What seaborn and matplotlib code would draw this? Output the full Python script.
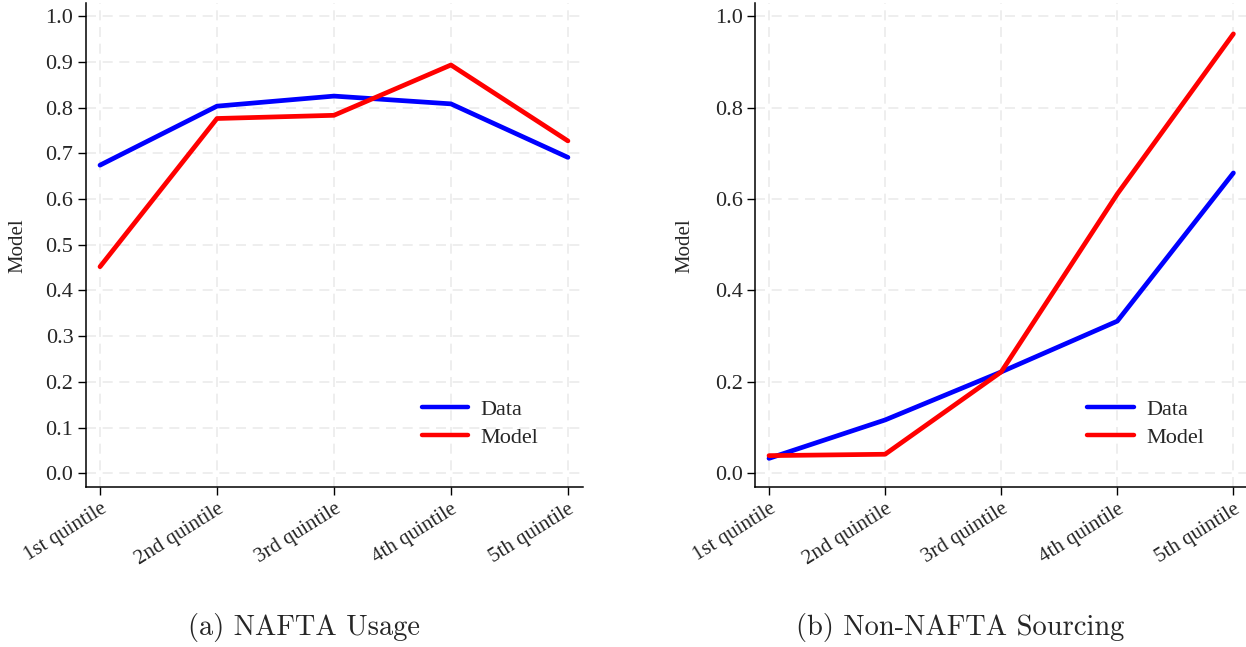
import matplotlib
matplotlib.use("Agg")
import matplotlib.pyplot as plt
import seaborn as sns
import pandas as pd
import numpy as np

categories = ["1st quintile", "2nd quintile", "3rd quintile", "4th quintile", "5th quintile"]
usage_data = [0.674, 0.803, 0.825, 0.808, 0.691]
usage_model = [0.452, 0.776, 0.783, 0.893, 0.727]
sourcing_data = [0.033, 0.117, 0.222, 0.333, 0.657]
sourcing_model = [0.039, 0.042, 0.222, 0.611, 0.961]
left_yticks = [0.0, 0.1, 0.2, 0.3, 0.4, 0.5, 0.6, 0.7, 0.8, 0.9, 1.0]
right_yticks = [0.0, 0.2, 0.4, 0.6, 0.8, 1.0]
captions = ["(a) NAFTA Usage", "(b) Non-NAFTA Sourcing"]

sns.set_style("ticks")
plt.rcParams["font.family"] = ["Liberation Serif", "DejaVu Serif"]

def long_df(d, m):
    return pd.DataFrame({
        "q": list(range(len(categories))) * 2,
        "value": list(d) + list(m),
        "series": ["Data"] * len(d) + ["Model"] * len(m),
    })

fig = plt.figure(figsize=(12.46, 6.47), dpi=100)
ax1 = fig.add_axes([0.069, 0.247, 0.399, 0.748])
ax2 = fig.add_axes([0.606, 0.247, 0.396, 0.748])

palette = {"Data": "#0000ff", "Model": "#ff0000"}
for ax, (d, m), yt, xl in [(ax1, (usage_data, usage_model), left_yticks, 27),
                           (ax2, (sourcing_data, sourcing_model), right_yticks, 694)]:
    df = long_df(d, m)
    sns.lineplot(data=df, x="q", y="value", hue="series", palette=palette,
                 linewidth=3.4, ax=ax, legend=True)
    ax.set_xlim(-0.12, 4.13)
    ax.set_ylim(-0.03, 1.028)
    ax.set_xticks(range(len(categories)))
    ax.set_xticklabels(categories, rotation=32, ha="right", rotation_mode="anchor",
                       fontsize=15)
    ax.set_yticks(yt)
    ax.set_yticklabels([f"{v:.1f}" for v in yt], fontsize=16)
    ax.set_xlabel("")
    ax.set_ylabel("Model", fontsize=15)
    ax.grid(True, color="#ebebeb", linestyle=(0, (6, 4)), linewidth=1.2)
    ax.set_axisbelow(True)
    sns.despine(ax=ax)
    ax.tick_params(axis="both", direction="out", length=6, width=1, color="black", pad=3)
    for s in ["left", "bottom"]:
        ax.spines[s].set_linewidth(1.1)
        ax.spines[s].set_color("black")
    leg = ax.legend(loc="lower right", bbox_to_anchor=(0.95, 0.04), frameon=False,
                    fontsize=16, handlelength=2.1, handletextpad=0.55, labelspacing=0.32)
    for h in leg.get_lines():
        h.set_linewidth(3.2)
    bbox = ax.get_position()
    x_ax = (xl / 1246 - bbox.x0) / bbox.width
    ax.yaxis.set_label_coords(x_ax, 0.5)

fig.text(304 / 1246, 1 - 628 / 647, captions[0], ha="center", va="center",
         fontsize=20.5, family=["cmr10", "DejaVu Serif"])
fig.text(960 / 1246, 1 - 628 / 647, captions[1], ha="center", va="center",
         fontsize=20.5, family=["cmr10", "DejaVu Serif"])

fig.savefig("out.png", dpi=100)
